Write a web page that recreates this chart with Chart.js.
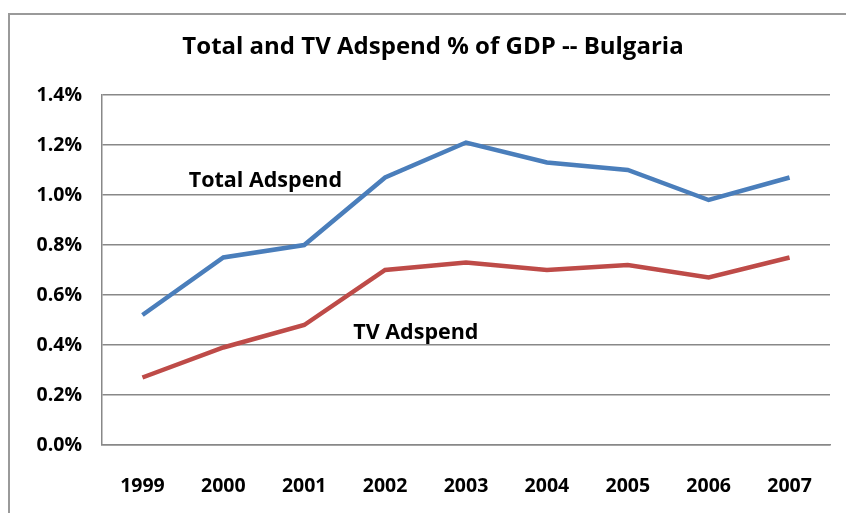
<!DOCTYPE html>
<html>
<head>
<meta charset="utf-8">
<script src="https://cdn.jsdelivr.net/npm/chart.js@4/dist/chart.umd.min.js"></script>
<style>
  html, body { margin: 0; padding: 0; background: #fff; }
  #wrap { position: relative; width: 846px; height: 513px; }
</style>
</head>
<body>
<div id="wrap"><canvas id="chart" width="846" height="513"></canvas></div>
<script>
// Years on the category axis
const years = ['1999', '2000', '2001', '2002', '2003', '2004', '2005', '2006', '2007'];
// Advertising spend as % of GDP
const totalAdspend = [0.52, 0.75, 0.80, 1.07, 1.21, 1.13, 1.10, 0.98, 1.07];
const tvAdspend    = [0.27, 0.39, 0.48, 0.70, 0.73, 0.70, 0.72, 0.67, 0.75];
// Value axis ticks (percent)
const yTicks = [0.0, 0.2, 0.4, 0.6, 0.8, 1.0, 1.2, 1.4];
const seriesNames = ['Total Adspend', 'TV Adspend'];
const chartTitle = 'Total and TV Adspend % of GDP -- Bulgaria';

const FONT = '"Open Sans", "Liberation Sans", sans-serif';

// Frame, title and in-plot series labels
const decorations = {
  id: 'decorations',
  beforeDraw(chart) {
    const ctx = chart.ctx;
    ctx.save();
    ctx.fillStyle = '#fff';
    ctx.fillRect(0, 0, chart.width, chart.height);
    ctx.strokeStyle = '#9a9a9a';
    ctx.lineWidth = 2;
    ctx.strokeRect(9, 14, chart.width + 10, chart.height + 10);
    ctx.restore();
  },
  afterDraw(chart) {
    const ctx = chart.ctx;
    const x = chart.scales.x, y = chart.scales.y;
    ctx.save();
    ctx.fillStyle = '#000';
    ctx.textAlign = 'center';
    ctx.textBaseline = 'middle';
    ctx.font = 'bold 24px ' + FONT;
    ctx.fillText(chartTitle, 433, 47);
    ctx.font = 'bold 21.5px ' + FONT;
    ctx.fillText(seriesNames[0], x.getPixelForValue(1.52), y.getPixelForValue(1.056));
    ctx.fillText(seriesNames[1], x.getPixelForValue(3.38), y.getPixelForValue(0.448));
    ctx.restore();
  }
};

new Chart(document.getElementById('chart'), {
  type: 'line',
  data: {
    labels: years,
    datasets: [
      { label: seriesNames[0], data: totalAdspend, borderColor: '#4a7ebb', borderWidth: 4.5, pointRadius: 0, tension: 0, fill: false },
      { label: seriesNames[1], data: tvAdspend, borderColor: '#be4b48', borderWidth: 4.5, pointRadius: 0, tension: 0, fill: false }
    ]
  },
  options: {
    responsive: false,
    animation: false,
    layout: { padding: { top: 95, right: 16, bottom: 0, left: 0 } },
    plugins: { legend: { display: false }, title: { display: false }, tooltip: { enabled: false } },
    scales: {
      x: {
        offset: true,
        grid: { display: false, drawTicks: false },
        border: { display: true, color: '#888', width: 1.5 },
        ticks: { color: '#000', font: { family: FONT, size: 19.5, weight: 'bold' }, padding: 30, maxRotation: 0 },
        afterFit(scale) { scale.height = 68; }
      },
      y: {
        min: 0, max: 1.4,
        afterBuildTicks(scale) { scale.ticks = yTicks.map(v => ({ value: v })); },
        grid: { color: '#888', lineWidth: 1.5, drawTicks: false },
        border: { display: true, color: '#888', width: 1.5 },
        ticks: {
          color: '#000', font: { family: FONT, size: 19.5, weight: 'bold' }, padding: 20,
          callback: v => v.toFixed(1) + '%'
        },
        afterFit(scale) { scale.width = 102; }
      }
    }
  },
  plugins: [decorations]
});
</script>
</body>
</html>
